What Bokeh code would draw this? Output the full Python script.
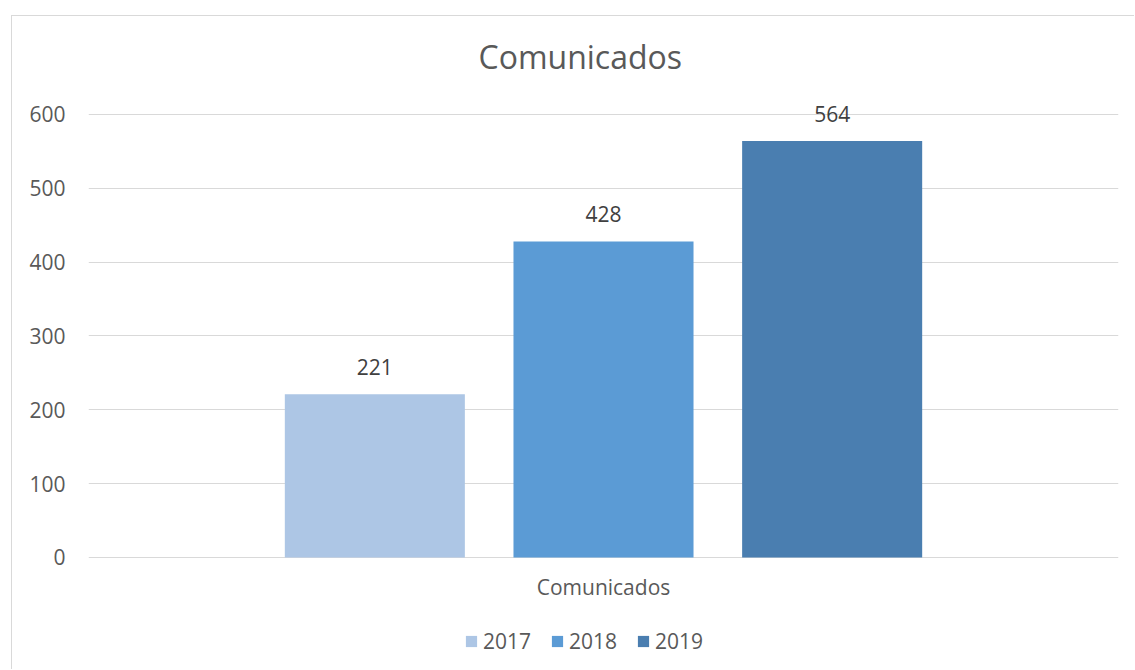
from bokeh.plotting import figure
from bokeh.models import ColumnDataSource, FactorRange, Legend, LegendItem, LabelSet, Title
from bokeh.core.properties import value
from bokeh.layouts import column
from bokeh.transform import dodge
from bokeh.embed import file_html
from bokeh.resources import INLINE

category = ["Comunicados"]
years = ["2017", "2018", "2019"]
values = [221, 428, 564]
colors = ["#adc6e5", "#5b9bd5", "#4a7eb0"]
y_ticks = [0, 100, 200, 300, 400, 500, 600]

FONT = "Open Sans"

p = figure(width=1122, height=653, x_range=FactorRange(factors=category, range_padding=0),
           y_range=(-148.96, 650), output_backend="svg", toolbar_location=None,
           min_border_left=76, min_border_right=16, min_border_top=61, min_border_bottom=2)
p.outline_line_color = None
p.background_fill_color = "white"
p.border_fill_color = "white"

title = Title(text="Comunicados", align="left", offset=390, text_font=FONT,
              text_font_size="32px", text_font_style="normal", text_color="#595959",
              standoff=0)
p.add_layout(title, "above")

items = []
n = len(years)
for i, (yr, val, col) in enumerate(zip(years, values, colors)):
    off = (i - (n - 1) / 2) * 0.222
    src = ColumnDataSource(dict(cat=category, top=[val], lab=[str(val)]))
    r = p.vbar(x=dodge("cat", off, range=p.x_range), top="top", width=0.1748,
               source=src, fill_color=col, line_color=None)
    items.append(LegendItem(label=yr, renderers=[r]))
    lbl = LabelSet(x=dodge("cat", off, range=p.x_range), y="top", text="lab", source=src,
                   text_align="center", text_baseline="alphabetic", y_offset=19,
                   text_font=value(FONT), text_font_size=value("21px"), text_color="#404040")
    p.add_layout(lbl)

# category (x axis) label, drawn under the zero line
cat_src = ColumnDataSource(dict(cat=category, y=[0], lab=category))
p.add_layout(LabelSet(x="cat", y="y", text="lab", source=cat_src, text_align="center",
                      text_baseline="alphabetic", y_offset=-38,
                      text_font=value(FONT), text_font_size=value("21px"),
                      text_color="#595959"))

p.xaxis.visible = False

p.yaxis.ticker = y_ticks
p.yaxis.axis_line_color = None
p.yaxis.major_tick_line_color = None
p.yaxis.minor_tick_line_color = None
p.yaxis.major_label_standoff = 17
p.yaxis.major_label_text_font = FONT
p.yaxis.major_label_text_font_size = "21px"
p.yaxis.major_label_text_color = "#595959"

p.xgrid.grid_line_color = None
p.ygrid.ticker = y_ticks
p.ygrid.grid_line_color = "#d9d9d9"
p.ygrid.grid_line_width = 1

legend = Legend(items=items, orientation="horizontal", location=(376, 12),
                glyph_width=14, glyph_height=14, label_height=14, label_standoff=5, spacing=19,
                padding=0, margin=0, border_line_color=None, background_fill_alpha=0,
                label_text_font=FONT, label_text_font_size="21px", label_text_color="#595959")
p.add_layout(legend, "center")

layout = column(p, styles={"border-top": "1px solid #d9d9d9", "border-left": "1px solid #d9d9d9",
                           "margin-left": "11px", "margin-top": "15px"})

open("out.html", "w").write(file_html(layout, INLINE))
